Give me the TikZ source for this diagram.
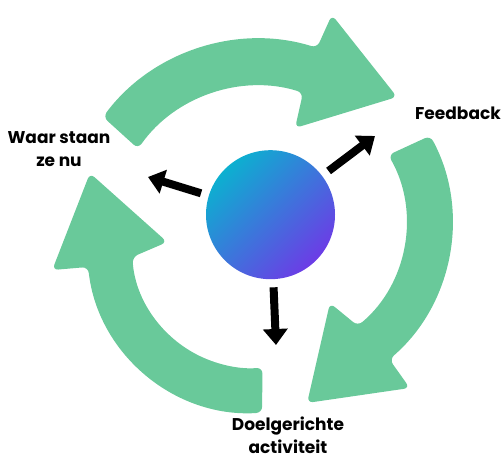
\documentclass[tikz,border=0pt]{standalone}
\usepackage{fontspec}
\setmainfont{Poppins}
\usetikzlibrary{arrows.meta}

\definecolor{cyclegreen}{RGB}{105,201,154}
\definecolor{hubcyan}{RGB}{12,176,208}
\definecolor{hubpurple}{RGB}{108,60,230}

\newcommand{\lbl}{\node[font=\bfseries\fontsize{17}{23}\selectfont, align=center, inner sep=0pt]}
\newcommand{\bend}{\fill[cyclegreen, rounded corners=6pt]}

\begin{document}
\begin{tikzpicture}[x=1pt, y=1pt,
    pointer/.style={line width=8pt, shorten <=8pt, -{Triangle[length=16pt, width=24pt]}}]
        \useasboundingbox (0,0) rectangle (503,460);

        % three arrows of the cycle
        \bend[shift={(259,226)}]
            (143.1:195) arc[start angle=143.1, end angle=72.7, radius=195]
            -- (71.6:231) -- (44.8:194.5) -- (71.2:112) -- (72.7:148)
            arc[start angle=72.7, end angle=144.8, radius=148] -- cycle;
        \bend[shift={(270,238)}]
            (28.3:182) arc[start angle=28.3, end angle=-49, radius=182]
            -- (-49.9:217) -- (-78.4:184.7) -- (-53.5:100.8) -- (-49.8:136)
            arc[start angle=-49.8, end angle=29.5, radius=136] -- cycle;
        \bend[shift={(252,212)}]
            (-86.5:165) arc[start angle=-86.5, end angle=-173.4, radius=165]
            -- (186.3:201) -- (155.2:178.5) -- (176:85) -- (184.3:120)
            arc[start angle=-175.7, end angle=-85, radius=120] -- cycle;

        \node[circle, inner sep=0pt, minimum size=129pt,
            left color=hubcyan, right color=hubpurple, shading angle=45] (hub) at (270.5,245.3) {};

        \coordinate (tipW) at (148,283);
        \coordinate (tipF) at (375,324);
        \coordinate (tipD) at (276,115);

        \foreach \t in {tipW, tipF, tipD}
            \draw[pointer] (hub) -- (\t);

        % base is the last line
        \lbl[anchor=base] (waar) at (59,293) {Waar staan\\ze nu};
        \lbl[anchor=base] (feedback) at (458,340.7) {Feedback};
        \lbl[anchor=base] (doel) at (288,6) {Doelgerichte\\activiteit};
    \end{tikzpicture}
\end{document}
